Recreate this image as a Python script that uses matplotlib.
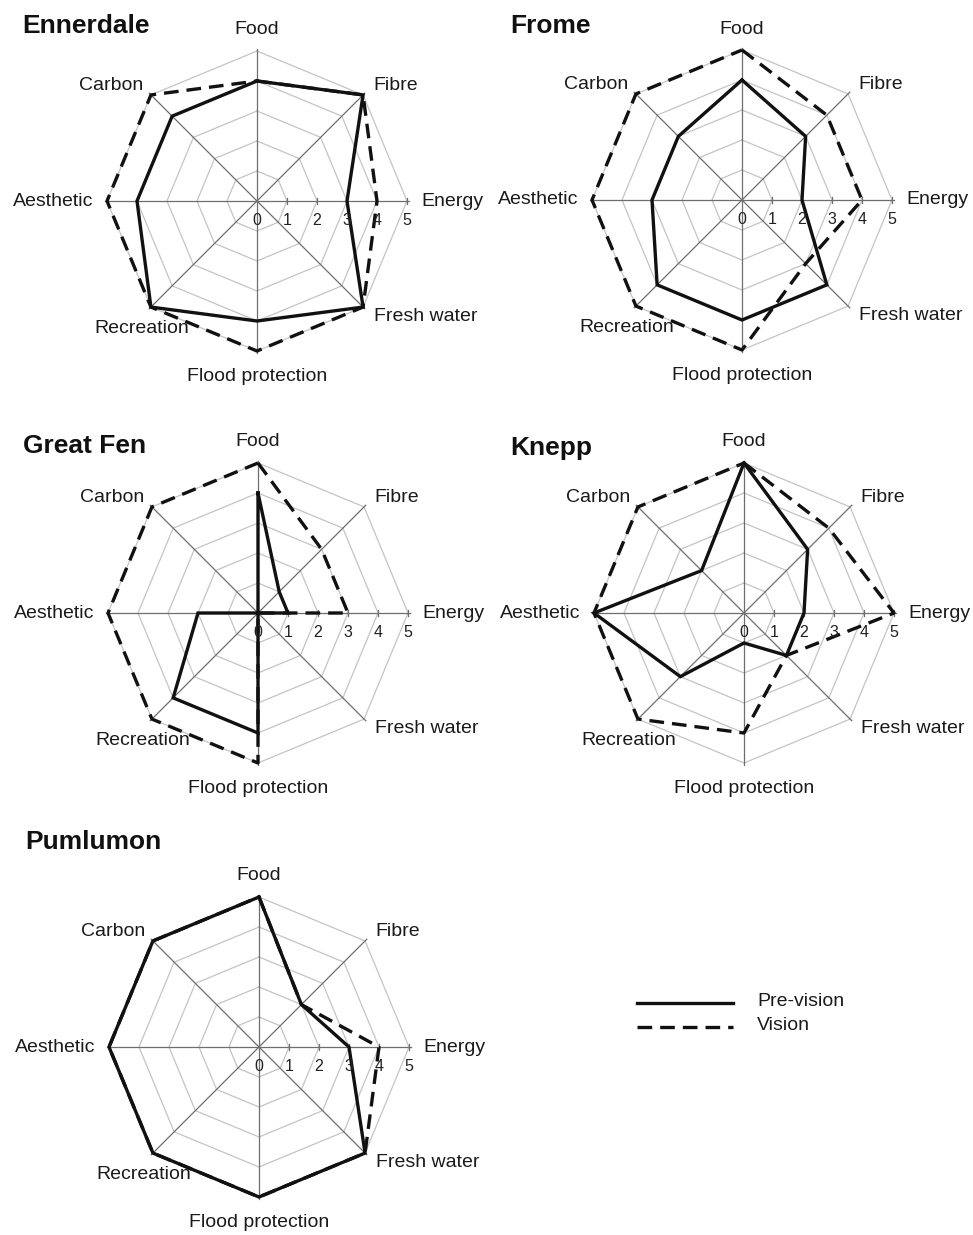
import numpy as np
import matplotlib.pyplot as plt
from matplotlib.lines import Line2D

plt.rcParams['font.family'] = ['Liberation Sans', 'DejaVu Sans']

services = ['Food', 'Fibre', 'Energy', 'Fresh water', 'Flood protection',
            'Recreation', 'Aesthetic', 'Carbon']
sites = ['Ennerdale', 'Frome', 'Great Fen', 'Knepp', 'Pumlumon']

ennerdale_pre = [4, 5, 3, 5, 4, 5, 4, 4]
ennerdale_vis = [4, 5, 4, 5, 5, 5, 5, 5]
frome_pre = [4, 3, 2, 4, 4, 4, 3, 3]
frome_vis = [5, 4, 4, 3, 5, 5, 5, 5]
greatfen_pre = [4, 1, 1, 0, 4, 4, 2, 0]
greatfen_vis = [5, 3, 3, 0, 5, 5, 5, 5]
knepp_pre = [5, 3, 2, 2, 1, 3, 5, 2]
knepp_vis = [5, 4, 5, 2, 4, 5, 5, 5]
pumlumon_pre = [5, 2, 3, 5, 5, 5, 5, 5]
pumlumon_vis = [5, 2, 4, 5, 5, 5, 5, 5]

pre_vision = [ennerdale_pre, frome_pre, greatfen_pre, knepp_pre, pumlumon_pre]
vision = [ennerdale_vis, frome_vis, greatfen_vis, knepp_vis, pumlumon_vis]
scale_ticks = [0, 1, 2, 3, 4, 5]

W, H = 973, 1235
UNIT = 30.0  # pixels per score unit
fig = plt.figure(figsize=(W / 100, H / 100), dpi=100)

# panel centres in pixels
centres = [(257, 201), (742, 200), (258, 613), (744, 613), (259, 1047)]
titles_xy = [(22, 26), (510, 26), (23, 446), (510, 448), (25, 842)]

theta = np.deg2rad(np.arange(8) * 45.0)


def to_xy(vals):
    v = np.asarray(vals, dtype=float)
    v = np.append(v, v[0])
    t = np.append(theta, theta[0])
    return v * np.sin(t), v * np.cos(t)


# label placement: (dx, dy, ha, va) relative to the score-5 vertex
lab_pos = [(0, 0.7, 'center', 'center'),
           (0.33, 0.3, 'left', 'center'),
           (0.47, 0, 'left', 'center'),
           (0.37, -0.3, 'left', 'center'),
           (0, -0.85, 'center', 'center'),
           (-0.3, -0.7, 'center', 'center'),
           (-0.47, 0, 'right', 'center'),
           (-0.27, 0.3, 'right', 'center')]

for i, site in enumerate(sites):
    cx, cy = centres[i]
    hw, hh = 240, 200
    ax = fig.add_axes([(cx - hw) / W, 1 - (cy + hh) / H, 2 * hw / W, 2 * hh / H])
    ax.set_xlim(-hw / UNIT, hw / UNIT)
    ax.set_ylim(-hh / UNIT, hh / UNIT)
    ax.axis('off')

    # octagon rings
    for r in scale_ticks[1:]:
        gx, gy = to_xy([r] * 8)
        ax.plot(gx, gy, color='#c4c4c4', lw=0.9, zorder=1)
    # spokes
    for t in theta[:4]:
        ax.plot([-5.08 * np.sin(t), 5.08 * np.sin(t)],
                [-5.08 * np.cos(t), 5.08 * np.cos(t)],
                color='#6e6e6e', lw=0.9, zorder=2)
    # small ticks on the energy axis
    for r in scale_ticks[1:]:
        ax.plot([r, r], [-0.09, 0.09], color='#6e6e6e', lw=0.9, zorder=2)
    for r in scale_ticks:
        ax.text(r, -0.66, str(r), ha='center', va='center', fontsize=11.5,
                color='#222222', zorder=5)

    # service labels
    for k, name in enumerate(services):
        dx, dy, ha, va = lab_pos[k]
        ax.text(5 * np.sin(theta[k]) + dx, 5 * np.cos(theta[k]) + dy, name,
                ha=ha, va=va, fontsize=14, color='#1a1a1a')

    px, py = to_xy(pre_vision[i])
    vx, vy = to_xy(vision[i])
    ax.plot(vx, vy, color='#111111', lw=2.4, dashes=(4.4, 2.4), zorder=3,
            solid_joinstyle='miter')
    ax.plot(px, py, color='#111111', lw=2.4, zorder=4, solid_joinstyle='miter')

    tx, ty = titles_xy[i]
    fig.text(tx / W, 1 - ty / H, site, fontsize=19, fontweight='bold',
             ha='left', va='center', color='#111111')

# legend
fig.add_artist(Line2D([637 / W, 733 / W], [1 - 1003 / H, 1 - 1003 / H],
                      color='#111111', lw=2.4, transform=fig.transFigure))
fig.add_artist(Line2D([637 / W, 733 / W], [1 - 1027 / H, 1 - 1027 / H],
                      color='#111111', lw=2.4, dashes=(4.4, 2.4),
                      transform=fig.transFigure))
fig.text(757 / W, 1 - 1002 / H, 'Pre-vision', fontsize=14, ha='left',
         va='center', color='#1a1a1a')
fig.text(757 / W, 1 - 1026 / H, 'Vision', fontsize=14, ha='left',
         va='center', color='#1a1a1a')

fig.savefig('out.png', dpi=100, facecolor='white')
